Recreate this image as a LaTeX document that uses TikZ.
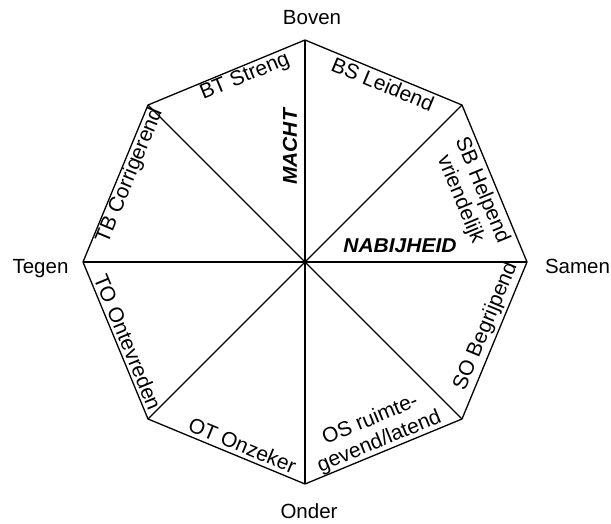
\documentclass[tikz,border=0pt]{standalone}
\usepackage{fontspec}
\setmainfont{Liberation Sans}
\begin{document}
\begin{tikzpicture}[x=1pt,y=-1pt,
  edge/.style={line width=1.3pt,black},
  lbl/.style={inner sep=0pt,font=\fontsize{20.5}{23}\selectfont},
  side/.style={inner sep=0pt,font=\fontsize{21}{23.5}\selectfont,align=center},
  axis/.style={inner sep=0pt,font=\fontsize{20}{23}\selectfont\bfseries\itshape}]
\useasboundingbox (0,0) rectangle (611,524);
\coordinate (C) at (305,262);
\coordinate (N) at (305,40);
\coordinate (NE) at (462,105);
\coordinate (E) at (527,262);
\coordinate (SE) at (462,419);
\coordinate (S) at (305,484);
\coordinate (SW) at (148,419);
\coordinate (W) at (83,262);
\coordinate (NW) at (148,105);
\draw[edge,line join=miter] (N) -- (NE) -- (E) -- (SE) -- (S) -- (SW) -- (W) -- (NW) -- cycle;
\foreach \v in {N,NE,E,SE,S,SW,W,NW} \draw[edge] (C) -- (\v);
% outer labels
\node[lbl,anchor=base] (boven) at (312,25) {Boven};
\node[lbl,anchor=base] (onder) at (309,518) {Onder};
\node[lbl,anchor=base] (tegen) at (40.5,273) {Tegen};
\node[lbl,anchor=base] (samen) at (577.5,273) {Samen};
% side labels
\node[side,rotate=22.5] (bt) at (245,77) {BT Streng};
\node[side,rotate=-22.5] (bs) at (383,84) {BS Leidend};
\node[side,rotate=-67.5] (sb) at (471,195) {SB Helpend\\vriendelijk};
\node[side,rotate=67.5] (so) at (486,326.5) {SO Begrijpend};
\node[side,rotate=22.5] (os) at (375,431) {OS ruimte-\\gevend/latend};
\node[side,rotate=-22.5] (ot) at (242.5,445) {OT Onzeker};
\node[side,rotate=-67.5] (to) at (128,342.2) {TO Ontevreden};
\node[side,rotate=67.5] (tb) at (130,175.8) {TB Corrigerend};
% axis labels
\node[axis,rotate=90] (macht) at (290,147) {\scalebox{1.05}[1]{MACHT}};
\node[axis] (nabij) at (400,246) {\scalebox{1.05}[1]{NABIJHEID}};
\end{tikzpicture}
\end{document}
